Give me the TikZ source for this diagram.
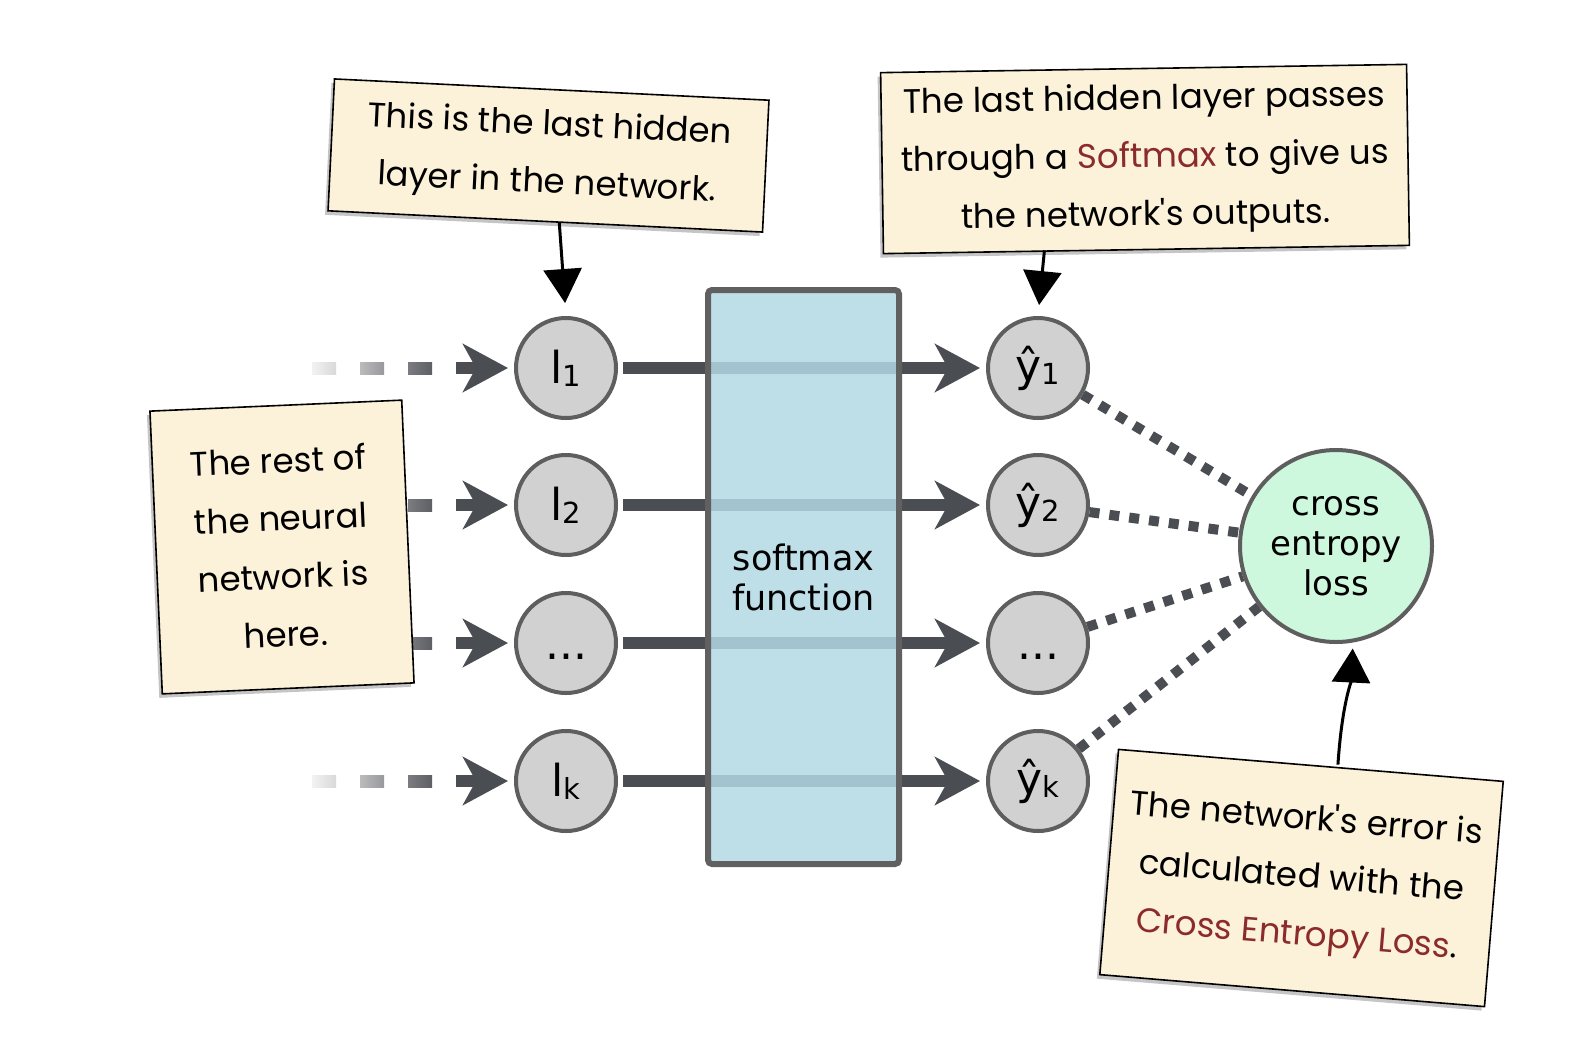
\documentclass[tikz,border=0pt]{standalone}
\usepackage{fontspec}
\setmainfont{DejaVu Sans}
\newfontfamily\notefont{Poppins}
\usetikzlibrary{arrows.meta,shadows}
\definecolor{darkline}{HTML}{4A4D52}
\definecolor{circfill}{HTML}{D1D1D1}
\definecolor{circborder}{HTML}{5E5E5E}
\definecolor{cefill}{HTML}{CDF8DD}
\definecolor{rectfill}{HTML}{B3D9E5}
\definecolor{rectborder}{HTML}{606060}
\definecolor{notefill}{HTML}{FCF2D9}
\definecolor{softred}{HTML}{8B2B2B}
\definecolor{fadeAa}{HTML}{F2F2F2}
\definecolor{fadeAb}{HTML}{D9D9DA}
\definecolor{fadeBa}{HTML}{BBBBBD}
\definecolor{fadeBb}{HTML}{98999C}
\definecolor{fadeCa}{HTML}{7A7C80}
\definecolor{fadeCb}{HTML}{5D5F64}
\newcommand\nlab[2]{#1\raisebox{-3pt}{\fontsize{29}{29}\selectfont #2}}
\newcommand\lowdots{\smash{\raisebox{-16pt}{...}}}
\begin{document}
\begin{tikzpicture}[x=1pt,y=-1pt,
 neuron/.style={circle,draw=circborder,line width=4pt,fill=circfill,minimum size=100pt,inner sep=0pt,font=\fontsize{44}{44}\selectfont},
 flow/.style={draw=darkline,line width=12pt,-{Stealth[length=45pt,width=48pt,inset=13pt]},shorten >=6pt,shorten <=5pt},
 lossline/.style={draw=darkline,line width=10pt,dash pattern=on 10pt off 10pt},
 note/.style={draw=black,line width=1.6pt,fill=notefill,inner sep=0pt,align=center,font=\notefont\fontsize{34}{58}\selectfont,drop shadow={shadow xshift=-3pt,shadow yshift=-4pt,opacity=0.45}},
 notearrow/.style={draw=black,line width=3pt,-{Triangle[length=34pt,width=38pt]}},
]
\useasboundingbox[fill=white] (0,0) rectangle (1594,1052);

% input neurons
\node[neuron] (I1) at (566,368) {\nlab{l}{1}};
\node[neuron] (I2) at (566,505) {\nlab{l}{2}};
\node[neuron] (I3) at (566,643) {\lowdots};
\node[neuron] (I4) at (566,781) {\nlab{l}{k}};

% output neurons
\node[neuron] (Y1) at (1038,368) {\nlab{ŷ}{1}};
\node[neuron] (Y2) at (1038,505) {\nlab{ŷ}{2}};
\node[neuron] (Y3) at (1038,643) {\lowdots};
\node[neuron] (Y4) at (1038,781) {\nlab{ŷ}{k}};

% incoming faded arrows
\foreach \i/\yy in {1/368,2/505,3/643,4/781}{
  \shade[left color=fadeAa,right color=fadeAb] (312,\yy-6) rectangle (336,\yy+6);
  \shade[left color=fadeBa,right color=fadeBb] (360,\yy-6) rectangle (384,\yy+6);
  \shade[left color=fadeCa,right color=fadeCb] (408,\yy-6) rectangle (432,\yy+6);
  \coordinate (s\i) at (456,\yy);
  \draw[flow,shorten <=0pt] (s\i) -- (I\i);
}

% flows through softmax
\foreach \i in {1,2,3,4}{
  \draw[flow] (I\i) -- (Y\i);
}

% softmax box
\node[draw=rectborder,line width=6pt,fill=rectfill,fill opacity=0.85,text opacity=1,rounded corners=4pt,minimum width=191pt,minimum height=574pt,inner sep=0pt,align=center,font=\fontsize{35}{40}\selectfont] (sm) at (803.5,577) {softmax\\function};

% cross entropy loss
\node[circle,draw=circborder,line width=4pt,fill=cefill,minimum size=192pt,inner sep=0pt,align=center,font=\fontsize{34}{40}\selectfont] (ce) at (1336,546) {cross\\entropy\\loss};

\foreach \i in {1,2,3,4}{
  \draw[lossline] (Y\i) -- (ce);
}

% notes
\node[note,rotate=-2.8,minimum width=435pt,minimum height=132pt] (n1) at (548.5,155.5)
  {This is the last hidden\\layer in the network.};
\node[note,rotate=0.9,minimum width=526pt,minimum height=181pt] (n2) at (1145,159)
  {The last hidden layer passes\\through a \textcolor{softred}{Softmax} to give us\\the network's outputs.};
\node[note,rotate=2.5,minimum width=252pt,minimum height=283pt] (n3) at (282,547)
  {The rest of\\the neural\\network is\\here.};
\node[note,rotate=-4.75,minimum width=386pt,minimum height=226pt] (n4) at (1301.5,878)
  {The network's error is\\calculated with the\\\textcolor{softred}{Cross Entropy Loss}.};

% note arrows
\draw[notearrow,shorten >=13pt] ([xshift=14pt]n1.south) -- (I1.north);
\draw[notearrow,shorten >=11pt] ([xshift=-102pt]n2.south) -- (Y1.north);
\draw[notearrow,shorten >=6pt] ([xshift=27pt]n4.north) .. controls +(4,-60) and +(-2,40) .. (ce.-80);
\end{tikzpicture}
\end{document}
